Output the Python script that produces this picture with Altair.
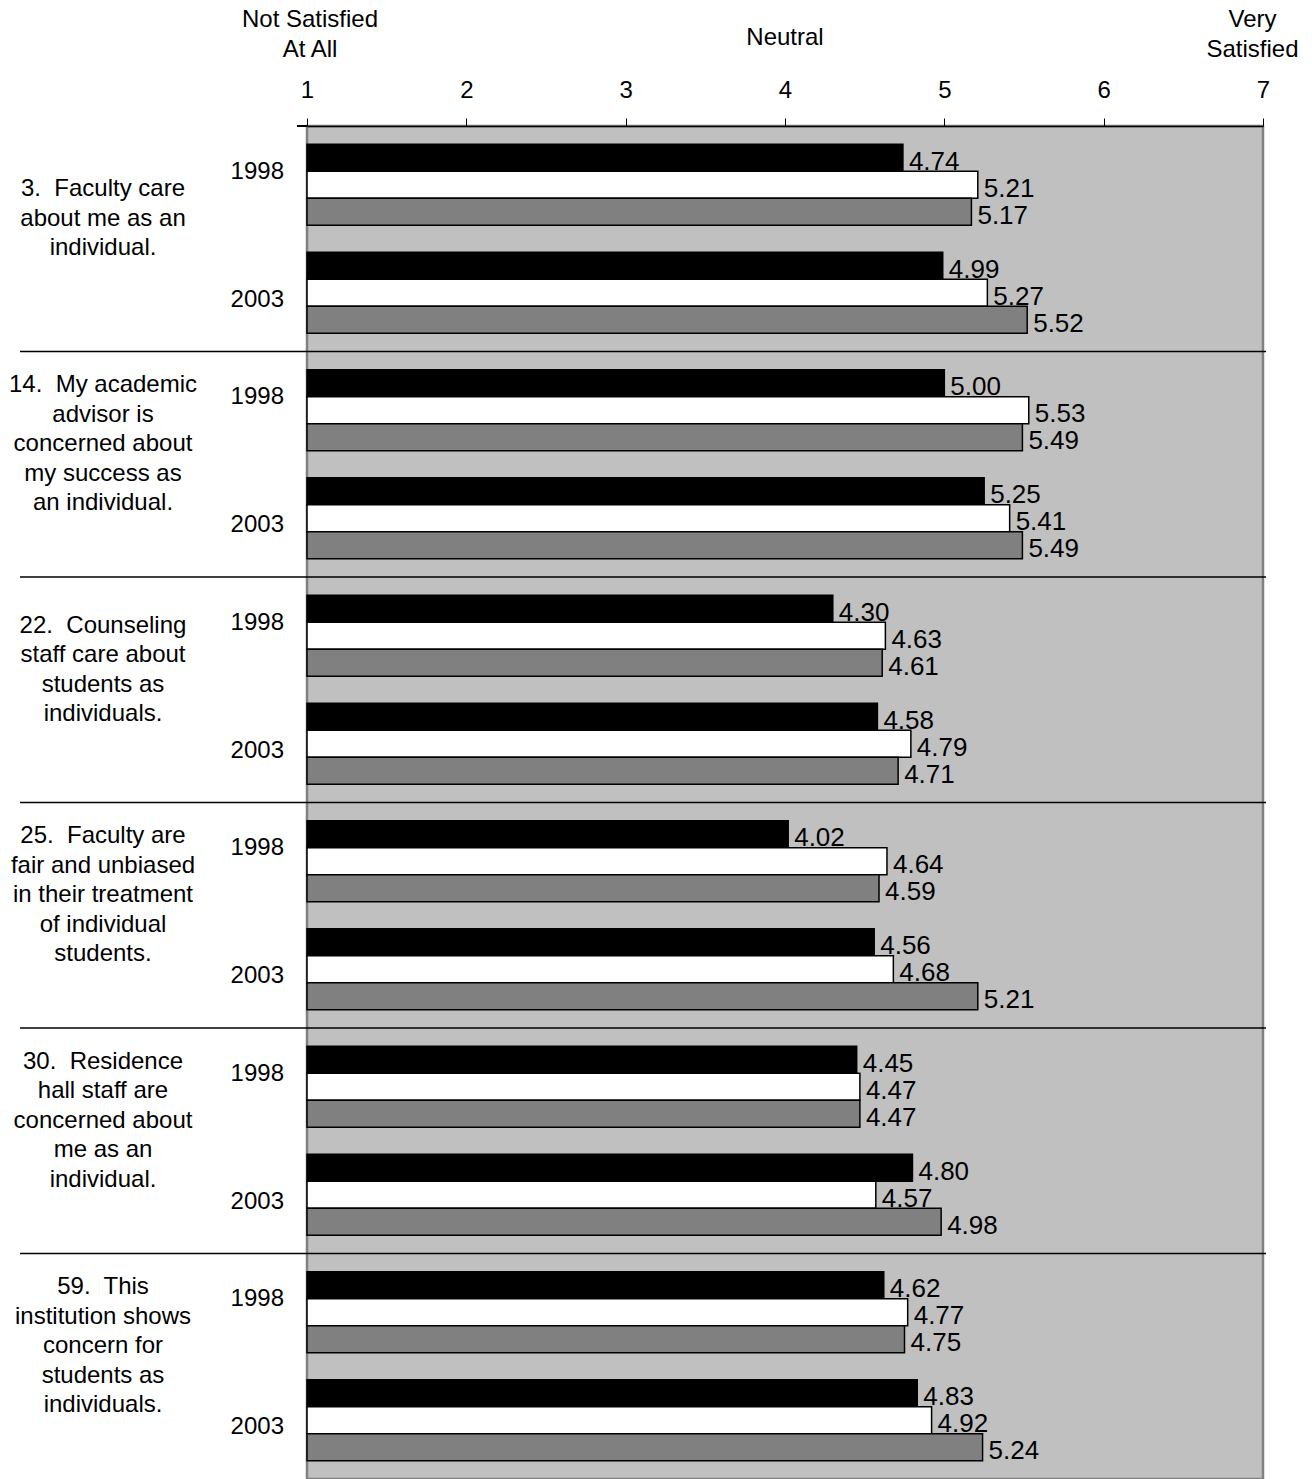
import altair as alt
import pandas as pd

NB = "\u00a0"
questions = [
    f"3.{NB} Faculty care\nabout me as an\nindividual.",
    f"14.{NB} My academic\nadvisor is\nconcerned about\nmy success as\nan individual.",
    f"22.{NB} Counseling\nstaff care about\nstudents as\nindividuals.",
    f"25.{NB} Faculty are\nfair and unbiased\nin their treatment\nof individual\nstudents.",
    f"30.{NB} Residence\nhall staff are\nconcerned about\nme as an\nindividual.",
    f"59.{NB} This\ninstitution shows\nconcern for\nstudents as\nindividuals.",
]
years = ["1998", "2003"]
series = ["S1", "S2", "S3"]
series_colors = ["#000000", "#FFFFFF", "#808080"]

s1_1998 = [4.74, 5.00, 4.30, 4.02, 4.45, 4.62]
s2_1998 = [5.21, 5.53, 4.63, 4.64, 4.47, 4.77]
s3_1998 = [5.17, 5.49, 4.61, 4.59, 4.47, 4.75]
s1_2003 = [4.99, 5.25, 4.58, 4.56, 4.80, 4.83]
s2_2003 = [5.27, 5.41, 4.79, 4.68, 4.57, 4.92]
s3_2003 = [5.52, 5.49, 4.71, 5.21, 4.98, 5.24]

x_ticks = [1, 2, 3, 4, 5, 6, 7]

vals = {
    ("1998", "S1"): s1_1998, ("1998", "S2"): s2_1998, ("1998", "S3"): s3_1998,
    ("2003", "S1"): s1_2003, ("2003", "S2"): s2_2003, ("2003", "S3"): s3_2003,
}

rows = []
for q in range(len(questions)):
    for y in years:
        for s in series:
            rows.append({"q": q, "year": y, "series": s, "slot": f"{y}|{s}",
                         "value": vals[(y, s)][q]})
df = pd.DataFrame(rows)

slots = ["1998|S1", "1998|S2", "1998|S3", "gap", "2003|S1", "2003|S2", "2003|S3"]

W, H = 956, 1353
FONT = "Liberation Sans"
FS = 24
VFS = 26
LH = 29.5

yscale = alt.Scale(domain=list(range(len(questions))), paddingInner=0.162, paddingOuter=0.081)
yoscale = alt.Scale(domain=slots, paddingInner=0, paddingOuter=0)
xscale = alt.Scale(domain=[1, 7], zero=False, nice=False)

xaxis = alt.Axis(orient="top", values=x_ticks, format="d", tickSize=8, tickColor="black",
                 domainColor="black", domainWidth=1.5, tickWidth=1, labelFontSize=FS,
                 labelFont=FONT, labelColor="black", labelPadding=16, labelFlush=False,
                 grid=False, title=None)

base = alt.Chart(df)

vlabels = base.mark_text(align="left", baseline="middle", dx=6, dy=4, font=FONT,
                         fontSize=VFS, color="black").encode(
    x=alt.X("value:Q", scale=xscale, axis=xaxis),
    y=alt.Y("q:O", scale=yscale, axis=None),
    yOffset=alt.YOffset("slot:N", scale=yoscale),
    text=alt.Text("value:Q", format=".2f"),
)

bars = base.mark_bar(stroke="black", strokeWidth=1.5).encode(
    x=alt.X("value:Q", scale=xscale, axis=xaxis),
    x2=alt.datum(1),
    y=alt.Y("q:O", scale=yscale, axis=None),
    yOffset=alt.YOffset("slot:N", scale=yoscale),
    color=alt.Color("series:N", scale=alt.Scale(domain=series, range=series_colors), legend=None),
)

sep_df = pd.DataFrame({"q": list(range(len(questions) - 1))})
seps = alt.Chart(sep_df).mark_rule(color="black", strokeWidth=1.5, yOffset=18.25).encode(
    y=alt.Y("q:O", scale=yscale, axis=None, bandPosition=1),
    x=alt.value(-287),
    x2=alt.value(W + 3),
)

top_ext = alt.Chart(sep_df).mark_rule(color="black", strokeWidth=1.5).encode(
    y=alt.value(0), x=alt.value(-10), x2=alt.value(0)
)

q_df = pd.DataFrame({"q": list(range(len(questions))), "label": questions})
q_df["n"] = [lab.count("\n") + 1 for lab in questions]

qlayers = []
for n in sorted(set(q_df["n"].tolist())):
    qlayers.append(
        alt.Chart(q_df).transform_filter(alt.datum.n == n).mark_text(
            align="center", baseline="middle", lineBreak="\n", lineHeight=LH, font=FONT,
            fontSize=FS, color="black", dy=-20 - (n - 1) / 2 * LH,
        ).encode(
            y=alt.Y("q:O", scale=yscale, axis=None),
            x=alt.value(-204),
            text="label:N",
        )
    )

yr_rows = []
for q in range(len(questions)):
    for y in years:
        yr_rows.append({"q": q, "year": y, "slot": f"{y}|S2"})
yr_df = pd.DataFrame(yr_rows)


def year_layer(yr, dy):
    return alt.Chart(yr_df).transform_filter(alt.datum.year == yr).mark_text(
        align="right", baseline="middle", font=FONT, fontSize=FS, color="black", dy=dy
    ).encode(
        y=alt.Y("q:O", scale=yscale, axis=None),
        yOffset=alt.YOffset("slot:N", scale=yoscale),
        x=alt.value(-23),
        text="year:N",
    )


h_df = pd.DataFrame({"k": [0]})
head_left = alt.Chart(h_df).mark_text(align="center", baseline="middle", lineBreak="\n",
                                      lineHeight=30, font=FONT, fontSize=FS, color="black",
                                      dx=3).encode(
    x=alt.X("xv:Q", scale=xscale, axis=xaxis),
    y=alt.value(-106),
    text=alt.value("Not Satisfied\nAt All"),
).transform_calculate(xv="1")

head_mid = alt.Chart(h_df).mark_text(align="center", baseline="middle", font=FONT,
                                     fontSize=FS, color="black").encode(
    x=alt.X("xv:Q", scale=xscale, axis=xaxis),
    y=alt.value(-88),
    text=alt.value("Neutral"),
).transform_calculate(xv="4")

head_right = alt.Chart(h_df).mark_text(align="center", baseline="middle", lineBreak="\n",
                                       lineHeight=30, font=FONT, fontSize=FS, color="black",
                                       dx=-10.5).encode(
    x=alt.X("xv:Q", scale=xscale, axis=xaxis),
    y=alt.value(-106),
    text=alt.value("Very\nSatisfied"),
).transform_calculate(xv="7")

chart = alt.layer(
    vlabels, bars, seps, top_ext, *qlayers, year_layer("1998", -13), year_layer("2003", 7),
    head_left, head_mid, head_right,
).properties(
    width=W, height=H,
    autosize=alt.AutoSizeParams(type="none"),
    padding={"left": 299, "top": 118, "right": 37, "bottom": 0},
).configure_view(
    fill="#C0C0C0", stroke="#808080", strokeWidth=2.5
)

chart.save("out.html", embed_options={"renderer": "svg", "actions": False})
